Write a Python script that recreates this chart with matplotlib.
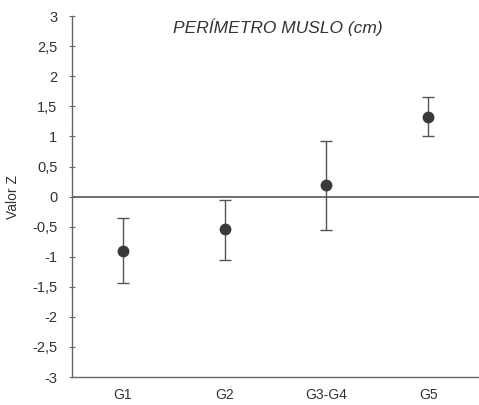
import matplotlib
matplotlib.use("Agg")
import matplotlib.pyplot as plt
import numpy as np

plt.rcParams['font.family'] = ['Liberation Sans', 'DejaVu Sans']

categories = ["G1", "G2", "G3-G4", "G5"]
means = [-0.90, -0.54, 0.19, 1.32]
upper = [-0.35, -0.05, 0.93, 1.65]
lower = [-1.44, -1.05, -0.56, 1.00]
yticks = [3, 2.5, 2, 1.5, 1, 0.5, 0, -0.5, -1, -1.5, -2, -2.5, -3]
ytick_labels = ["3", "2,5", "2", "1,5", "1", "0,5", "0", "-0,5", "-1", "-1,5", "-2", "-2,5", "-3"]

fig = plt.figure(figsize=(4.79, 4.05), dpi=100)
ax = fig.add_axes([0.150, 0.069, 0.850, 0.891])

x = np.arange(len(categories))
m = np.array(means)
err = [m - np.array(lower), np.array(upper) - m]
ax.errorbar(x, m, yerr=err, fmt='o', color='#3a3a3a', ecolor='#555555',
            elinewidth=1.0, capsize=4, capthick=1.0, markersize=7.5, zorder=3)

ax.axhline(0, color='#555555', linewidth=1.2, zorder=1)

ax.set_xlim(-0.5, 3.5)
ax.set_ylim(-3, 3)
ax.set_xticks(x)
ax.set_xticklabels(categories, fontsize=10, color='#333333')
ax.set_yticks(yticks)
ax.set_yticklabels(ytick_labels, fontsize=10.5, color='#333333')
ax.tick_params(axis='x', length=0, pad=8)
ax.tick_params(axis='y', direction='inout', length=5, width=0.8, color='#666666', pad=8)

for s in ['top', 'right']:
    ax.spines[s].set_visible(False)
for s in ['left', 'bottom']:
    ax.spines[s].set_color('#666666')
    ax.spines[s].set_linewidth(1.0)

ax.set_ylabel("Valor Z", fontsize=10, color='#333333')
ax.yaxis.set_label_coords(-0.128, 0.5)
ax.text(0.506, 0.994, "PERÍMETRO MUSLO (cm)", transform=ax.transAxes,
        ha='center', va='top', fontsize=12.5, style='italic', color='#333333')

fig.savefig("out.png", dpi=100)
